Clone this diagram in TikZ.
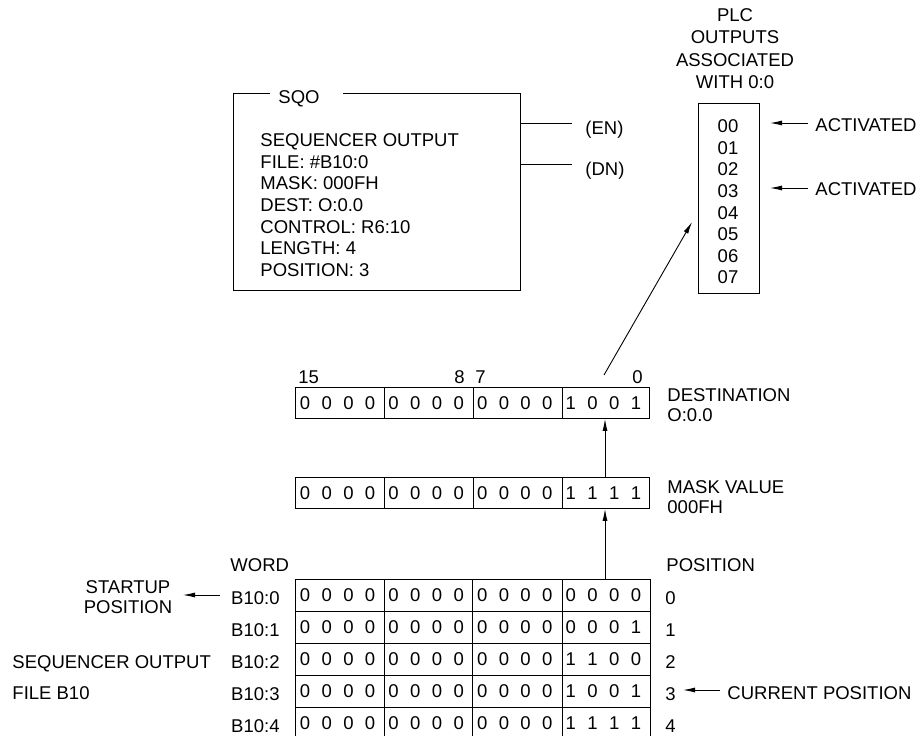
\documentclass[tikz,border=0pt]{standalone}
\usepackage{fontspec}
\setmainfont{Liberation Sans}
\usetikzlibrary{arrows.meta,calc}
\begin{document}
\begin{tikzpicture}[x=1pt,y=-1pt,line width=0.9pt,
  txt/.style={inner sep=0pt,font=\fontsize{18.5}{21.7}\selectfont},
  arr/.style={-{Latex[length=12pt,width=5pt]}},
  boxnode/.style={draw,inner sep=0pt,anchor=north west}]
\useasboundingbox (0,0) rectangle (924,736);

% ---------- SQO instruction box ----------
\node[inner sep=0pt,anchor=north west,minimum width=287,minimum height=197] (sqo) at (233,93) {};
\draw ($(sqo.north west)+(37,0)$) -- (sqo.north west) -- (sqo.south west) -- (sqo.south east) -- (sqo.north east) -- ($(sqo.north west)+(110,0)$);
\node[txt,anchor=base west] (sqot) at (278,103) {SQO};
\foreach \t [count=\k from 0] in {SEQUENCER OUTPUT,{FILE: \#B10:0},{MASK: 000FH},{DEST: O:0.0},{CONTROL: R6:10},{LENGTH: 4},{POSITION: 3}}
  \node[txt,anchor=base west] (sq\k) at (260,{146.6+21.6*\k}) {\t};
\coordinate (en) at (572,123);
\coordinate (dn) at (572,164);
\draw (sqo.east |- en) -- (en);
\draw (sqo.east |- dn) -- (dn);
\node[txt,anchor=base west] (ent) at (585,134) {(EN)};
\node[txt,anchor=base west] (dnt) at (585,175) {(DN)};

% ---------- PLC outputs ----------
\foreach \t [count=\k from 0] in {PLC,OUTPUTS,ASSOCIATED,{WITH 0:0}}
  \node[txt,anchor=base] (hd\k) at (735,{21.6+22.3*\k}) {\t};
\node[boxnode,minimum width=61,minimum height=190] (plc) at (698,103) {};
\foreach \t [count=\k from 0] in {00,01,02,03,04,05,06,07}
  \node[txt,anchor=base] (o\k) at (728,{132.6+21.6*\k}) {\t};
\node[txt,anchor=base west] (act1) at (815,131.6) {ACTIVATED};
\node[txt,anchor=base west] (act2) at (815,195.6) {ACTIVATED};
\coordinate (a1s) at (808,123);
\coordinate (a1e) at (770,123);
\coordinate (a2s) at (808,188);
\coordinate (a2e) at (770,188);
\draw[arr] (a1s) -- (a1e);
\draw[arr] (a2s) -- (a2e);

% ---------- destination and mask words ----------
\foreach \nm/\yt/\bits in {dest/387/{0,0,0,0,0,0,0,0,0,0,0,0,1,0,0,1},mask/477/{0,0,0,0,0,0,0,0,0,0,0,0,1,1,1,1}}{
  \node[boxnode,minimum width=354,minimum height=31] (\nm) at (295,\yt) {};
  \foreach \xd in {384,473,562}
    \draw (\xd,\yt) -- (\xd,\yt+31);
  \foreach \b [count=\i from 0] in \bits {
    \pgfmathsetmacro\xx{295+88.6*int(\i/4)+10+21.7*mod(\i,4)}
    \node[txt,anchor=base] (\nm-\i) at (\xx,\yt+22) {\b};
  }
}
\node[txt,anchor=base west] (b15) at (298,383.6) {15};
\node[txt,anchor=base east] (b8) at (465,383.6) {8};
\node[txt,anchor=base west] (b7) at (475,383.6) {7};
\node[txt,anchor=base east] (b0) at (643,383.6) {0};
\node[txt,anchor=base west] (dl1) at (667,401.6) {DESTINATION};
\node[txt,anchor=base west] (dl2) at (667,421.6) {O:0.0};
\node[txt,anchor=base west] (ml1) at (667,493.6) {MASK VALUE};
\node[txt,anchor=base west] (ml2) at (667,513.6) {000FH};

% ---------- sequencer file table ----------
\node[boxnode,minimum width=355,minimum height=160] (tbl) at (295,579) {};
\foreach \yy in {611,643,675,707}
  \draw (295,\yy) -- (650,\yy);
\foreach \xd in {384,472,562}
  \draw (\xd,579) -- (\xd,739);
\foreach \bits [count=\r from 0] in {{0,0,0,0,0,0,0,0,0,0,0,0,0,0,0,0},{0,0,0,0,0,0,0,0,0,0,0,0,0,0,0,1},{0,0,0,0,0,0,0,0,0,0,0,0,1,1,0,0},{0,0,0,0,0,0,0,0,0,0,0,0,1,0,0,1},{0,0,0,0,0,0,0,0,0,0,0,0,1,1,1,1}}{
  \pgfmathsetmacro\yb{579+32*\r+22.6}
  \foreach \b [count=\i from 0] in \bits {
    \pgfmathsetmacro\xx{295+88.6*int(\i/4)+10+21.7*mod(\i,4)}
    \node[txt,anchor=base] (t\r-\i) at (\xx,\yb) {\b};
  }
  \node[txt,anchor=base east] (w\r) at (280,\yb+3) {B10:\r};
  \node[txt,anchor=base west] (p\r) at (665,\yb+3) {\r};
}
\node[txt,anchor=base west] (word) at (230,571.6) {WORD};
\node[txt,anchor=base west] (posh) at (666,571.6) {POSITION};
\node[txt,anchor=base] (su1) at (128,593.6) {STARTUP};
\node[txt,anchor=base] (su2) at (128,613.6) {POSITION};
\coordinate (sus) at (220,595);
\coordinate (sue) at (183,595);
\draw[arr] (sus) -- (sue);
\node[txt,anchor=base west] (so1) at (12,668.6) {SEQUENCER OUTPUT};
\node[txt,anchor=base west] (so2) at (12,699.6) {FILE B10};
\node[txt,anchor=base west] (cur) at (727,699.6) {CURRENT POSITION};
\coordinate (cps) at (720,690);
\coordinate (cpe) at (683,690);
\draw[arr] (cps) -- (cpe);

% ---------- data-flow arrows ----------
\coordinate (ax) at (605,0);
\draw[arr] (tbl.north -| ax) -- (mask.south -| ax);
\draw[arr] (mask.north -| ax) -- (dest.south -| ax);
\coordinate (dstart) at (604,375);
\coordinate (dend) at (692,222);
\draw[arr] (dstart) -- (dend);
\end{tikzpicture}
\end{document}
